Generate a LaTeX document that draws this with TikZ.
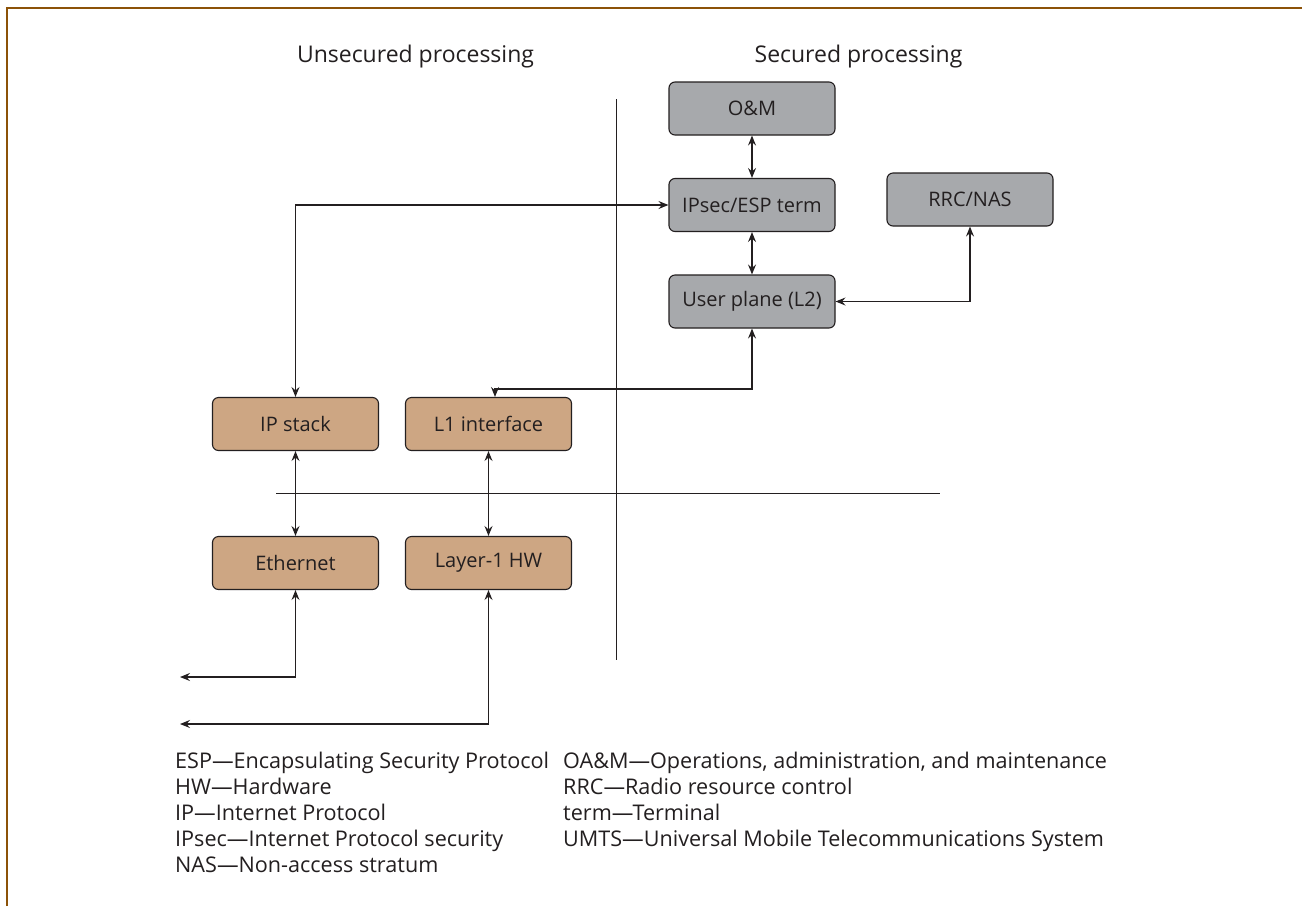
\documentclass[tikz,border=0pt]{standalone}
\usepackage{fontspec}
\setmainfont{Open Sans}
\usetikzlibrary{arrows.meta,calc}
\definecolor{frame}{RGB}{140,82,8}
\definecolor{secgray}{RGB}{167,169,172}
\definecolor{tan}{RGB}{205,166,131}
\definecolor{ink}{RGB}{35,31,32}
\tikzset{
  blk/.style={draw=ink, line width=1.1pt, rounded corners=6pt,
    minimum width=166pt, minimum height=53pt, inner sep=0pt,
    font=\fontsize{20}{24}\selectfont, text=ink},
  secbox/.style={blk, fill=secgray},
  unsbox/.style={blk, fill=tan},
  link/.style={draw=ink, line width=1.2pt},
  biarrow/.style={link, {Stealth[length=10pt,width=8pt,inset=3.5pt]}-{Stealth[length=10pt,width=8pt,inset=3.5pt]}},
  divider/.style={draw=ink, line width=1pt},
  heading/.style={font=\fontsize{23}{27}\selectfont, text=ink, anchor=base},
  gloss/.style={font=\fontsize{21.6}{26}\selectfont, text=ink, anchor=base west, inner sep=0pt}
}
\begin{document}
\begin{tikzpicture}[x=1pt, y=-1pt]
\useasboundingbox (0,0) rectangle (1302,906);
\fill[white] (0,0) rectangle (1302,906);

% page frame (left and top edges)
\draw[frame, line width=2.6pt] (7,906) -- (7,8) -- (1302,8);

% column headings
\node[heading] (hu) at (415.5,62) {Unsecured processing};
\node[heading] (hs) at (858.5,62) {Secured processing};

% boundaries between processing domains
\draw[divider] (616,99) -- (616,660);
\draw[divider] (276,493) -- (940,493);

% secured blocks
\node[secbox] (om)   at (752,108.5) {O\&M};
\node[secbox] (ipsec) at (752,205)   {IPsec/ESP term};
\node[secbox] (up)   at (752,301.5) {User plane (L2)};
\node[secbox] (rrc)  at (970,199.5) {RRC/NAS};

% unsecured blocks
\node[unsbox] (ipst) at (295.5,424) {IP stack};
\node[unsbox] (l1if) at (488.5,424) {L1 interface};
\node[unsbox] (eth)  at (295.5,563) {Ethernet};
\node[unsbox] (l1hw) at (488.5,563) {Layer-1 HW};

% external ports
\coordinate (outA) at (180,677);
\coordinate (outB) at (180,724);

% connections
\draw[biarrow] (om.south) -- (ipsec.north);
\draw[biarrow] (ipsec.south) -- (up.north);
\draw[biarrow] (ipst.north) |- (ipsec.west);
\draw[biarrow] (up.south) -- ++(0,60.5) -| ([xshift=6.5pt]l1if.north);
\draw[biarrow] (up.east) -| (rrc.south);
\draw[biarrow] (ipst.south) -- (eth.north);
\draw[biarrow] (l1if.south) -- (l1hw.north);
\draw[biarrow] (eth.south) |- (outA);
\draw[biarrow] (l1hw.south) |- (outB);

% abbreviations
\node[gloss] (g1) at (175,768) {ESP---Encapsulating Security Protocol};
\node[gloss] (g2) at (175,794) {HW---Hardware};
\node[gloss] (g3) at (175,820) {IP---Internet Protocol};
\node[gloss] (g4) at (175,846) {IPsec---Internet Protocol security};
\node[gloss] (g5) at (175,872) {NAS---Non-access stratum};
\node[gloss] (g6) at (563,768) {OA\&M---Operations, administration, and maintenance};
\node[gloss] (g7) at (563,794) {RRC---Radio resource control};
\node[gloss] (g8) at (563,820) {term---Terminal};
\node[gloss] (g9) at (563,846) {UMTS---Universal Mobile Telecommunications System};
\end{tikzpicture}
\end{document}
